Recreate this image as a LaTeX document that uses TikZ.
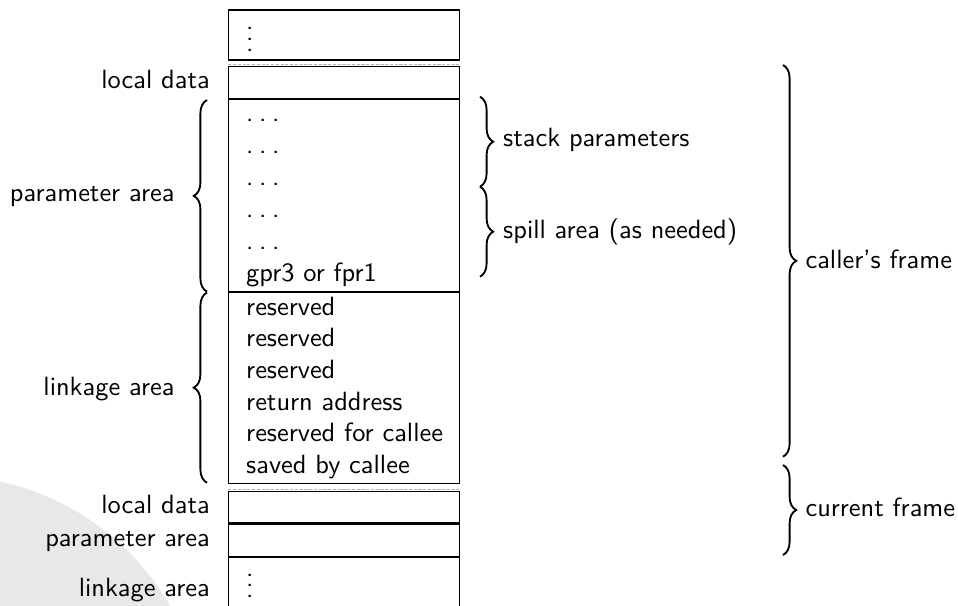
\documentclass[tikz,border=0pt]{standalone}
\usetikzlibrary{decorations.pathreplacing,fit}
\definecolor{wm}{gray}{0.91}
\newcommand{\spdots}{.\kern.21em.\kern.21em.}
\begin{document}
\begin{tikzpicture}[x=0.3788pt,y=-0.3788pt,font=\sffamily,
  box/.style={draw,line width=0.45pt,inner sep=0pt},
  lbl/.style={anchor=base east,inner sep=0pt},
  rowtxt/.style={anchor=base west,inner sep=0pt},
  rlbl/.style={anchor=base west,inner sep=0pt},
  brc/.style={decorate,decoration={brace,amplitude=5pt},line width=0.7pt},
  sepline/.style={draw=gray!60,line width=0.4pt,dash pattern=on 1.2pt off 0.6pt}]
\useasboundingbox (0,0) rectangle (958,605);
% light background disc
\begin{scope}
  \clip (0,0) rectangle (958,605);
  \fill[wm] (-54,734) circle[radius=258];
\end{scope}

% ---- boxes ----
\node[box,fit={(228.3,10)(459.3,60)}] (topbox) {};
\node[box,fit={(228.3,66.7)(459.3,99)}] (locA) {};
\node[box,fit={(228.3,99)(459.3,292)}] (parA) {};
\node[box,fit={(228.3,292)(459.3,483.3)}] (linkA) {};
\node[box,fit={(228.3,491.7)(459.3,522.5)}] (locB) {};
\node[box,fit={(228.3,524)(459.3,556.5)}] (parB) {};
\coordinate (linkBtl) at (228.3,557.3);
\coordinate (linkBtr) at (459.3,557.3);
\coordinate (linkBbl) at (228.3,606);
\coordinate (linkBbr) at (459.3,606);
\draw[line width=0.45pt] (linkBbl) -- (linkBtl) -- (linkBtr) -- (linkBbr);

% separator lines between frames
\coordinate (s1a) at (228.3,64.6); \coordinate (s1b) at (459.3,64.6);
\coordinate (s2a) at (228.3,489.6); \coordinate (s2b) at (459.3,489.6);
\draw[sepline] (s1a) -- (s1b);
\draw[sepline] (s2a) -- (s2b);

% ---- box contents ----
\node[rowtxt] (vtop) at (245.7,51) {$\vdots$};
\node[rowtxt] (p1) at (245.7,121) {\spdots};
\node[rowtxt] (p2) at (245.7,153) {\spdots};
\node[rowtxt] (p3) at (245.7,185) {\spdots};
\node[rowtxt] (p4) at (245.7,217) {\spdots};
\node[rowtxt] (p5) at (245.7,249) {\spdots};
\node[rowtxt] (p6) at (245.7,281.5) {gpr3 or fpr1};
\node[rowtxt] (l1) at (245.7,315) {reserved};
\node[rowtxt] (l2) at (245.7,346.7) {reserved};
\node[rowtxt] (l3) at (245.7,378.3) {reserved};
\node[rowtxt] (l4) at (245.7,410) {return address};
\node[rowtxt] (l5) at (245.7,441.7) {reserved for callee};
\node[rowtxt] (l6) at (245.7,473.3) {saved by callee};
\node[rowtxt] (vbot) at (245.7,597.5) {$\vdots$};

% ---- left labels ----
\node[lbl] (tLocA) at (210.3,88.7) {local data};
\node[lbl] (tParA) at (175,201.7) {parameter area};
\node[lbl] (tLinkA) at (175,395) {linkage area};
\node[lbl] (tLocB) at (210.3,513.3) {local data};
\node[lbl] (tParB) at (210.3,546.7) {parameter area};
\node[lbl] (tLinkB) at (210.3,596.7) {linkage area};

% ---- left braces ----
\coordinate (bpA1) at (207,291.7); \coordinate (bpA2) at (207,100);
\coordinate (blA1) at (207,482.7); \coordinate (blA2) at (207,292.5);
\draw[brc] (bpA1) -- (bpA2);
\draw[brc] (blA1) -- (blA2);

% ---- right braces ----
\coordinate (bs1) at (480,96.7); \coordinate (bs2) at (480,186.7);
\coordinate (bsp1) at (480,186.7); \coordinate (bsp2) at (480,276.7);
\coordinate (bc1) at (783,65); \coordinate (bc2) at (783,456.7);
\coordinate (bcu1) at (783,465); \coordinate (bcu2) at (783,555);
\draw[brc] (bs1) -- (bs2);
\draw[brc] (bsp1) -- (bsp2);
\draw[brc] (bc1) -- (bc2);
\draw[brc] (bcu1) -- (bcu2);

\node[rlbl] (tStack) at (502.7,146.7) {stack parameters};
\node[rlbl] (tSpill) at (502.7,238.3) {spill area (as needed)};
\node[rlbl] (tCaller) at (805,268.3) {caller's frame};
\node[rlbl] (tCurrent) at (805,516.7) {current frame};
\end{tikzpicture}
\end{document}
